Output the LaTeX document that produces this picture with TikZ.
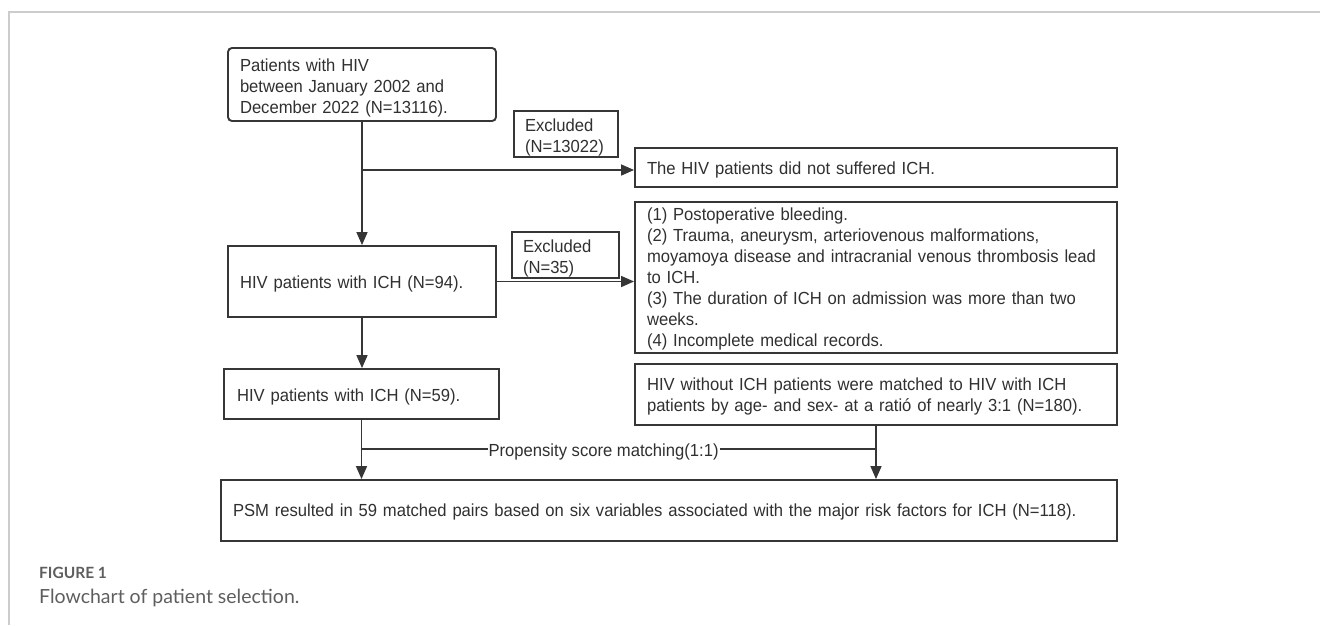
\documentclass[tikz,border=0pt]{standalone}
\usepackage{fontspec}
\setmainfont[FakeStretch=0.95]{Liberation Sans}
\newfontfamily\capfont{Lato}
\usetikzlibrary{arrows.meta}
\definecolor{linecol}{HTML}{363636}
\definecolor{txtcol}{HTML}{303030}
\definecolor{framecol}{HTML}{CCCCCC}
\definecolor{capcol}{HTML}{5E5E5E}
\tikzset{
  box/.style={draw=linecol, line width=1.9pt, text=txtcol,
    font=\fontsize{17.5pt}{21pt}\selectfont, align=left,
    inner xsep=12pt, inner ysep=0pt, anchor=center},
  conn/.style={draw=linecol, line width=1.6pt},
  arr/.style={conn, -{Triangle[length=13pt,width=11pt]}},
  lbl/.style={fill=white, text=txtcol, font=\fontsize{17.5pt}{21pt}\selectfont,
    inner xsep=1pt, inner ysep=0pt, text height=17.5pt, text depth=3.5pt},
}
\begin{document}
\begin{tikzpicture}[x=1pt,y=-1pt]
\useasboundingbox (0,0) rectangle (1320,625);
\draw[framecol, line width=1.5pt] (9,625) -- (9,12) -- (1320,12);

\node[box, rounded corners=4pt, text width=244pt, minimum height=73pt, text height=20.5pt] (B1) at (362,84.5)
  {Patients with HIV\\between January 2002 and\\December 2022 (N=13116).};
\node[box, inner xsep=11pt, text width=82pt, minimum height=46pt, text height=20.5pt] (E1) at (566,134)
  {Excluded\\(N=13022)};
\node[box, text width=458pt, minimum height=39pt, text height=18.5pt] (B3) at (876,167.5)
  {The HIV patients did not suffered ICH.};
\node[box, text width=244pt, minimum height=71pt, text height=18.5pt] (B2) at (362,281.5)
  {HIV patients with ICH (N=94).};
\node[box, inner xsep=11pt, text width=85pt, minimum height=40pt, text height=20.5pt] (E2) at (565.5,255)
  {Excluded\\(N=35)};
\node[box, text width=458pt, minimum height=151pt, text height=16.5pt] (B7) at (876,277.5)
  {(1) Postoperative bleeding.\\(2) Trauma, aneurysm, arteriovenous malformations,\\moyamoya disease and intracranial venous thrombosis lead\\to ICH.\\(3) The duration of ICH on admission was more than two\\weeks.\\(4) Incomplete medical records.};
\node[box, inner xsep=13pt, text width=249pt, minimum height=50pt, text height=19.5pt] (B4) at (361.5,394)
  {HIV patients with ICH (N=59).};
\node[box, text width=458pt, minimum height=61pt, text height=17.5pt] (B5) at (876,394.5)
  {HIV without ICH patients were matched to HIV with ICH\\patients by age- and sex- at a ratió of nearly 3:1 (N=180).};
\node[box, text width=872pt, minimum height=61pt, text height=16.5pt] (B6) at (669,510.5)
  {PSM resulted in 59 matched pairs based on six variables associated with the major risk factors for ICH (N=118).};

\coordinate (j1) at (362,170);
\draw[arr] (B1.south) -- (B2.north);
\draw[arr] (j1) -- (j1 -| B3.west);
\draw[arr] (B2.east) -- (B2.east -| B7.west);
\draw[arr] (B2.south) -- (B2.south |- B4.north);
\draw[arr] (B4.south) -- (B4.south |- B6.north);
\draw[arr] (B5.south) -- (B5.south |- B6.north);
\coordinate (pL) at (362,449);
\coordinate (pR) at (876,449);
\draw[conn] (pL) -- (pR) node[lbl, pos=0.47] (psm) {Propensity score matching(1:1)};

\node[anchor=base west, inner sep=0pt, text=capcol, font=\capfont\fontsize{15.5pt}{18pt}\selectfont\bfseries] (fig) at (39,578) {FIGURE 1};
\node[anchor=base west, inner sep=0pt, text=capcol, font=\capfont\fontsize{19.5pt}{23pt}\selectfont] (cap) at (39,603) {Flowchart of patient selection.};
\end{tikzpicture}
\end{document}
